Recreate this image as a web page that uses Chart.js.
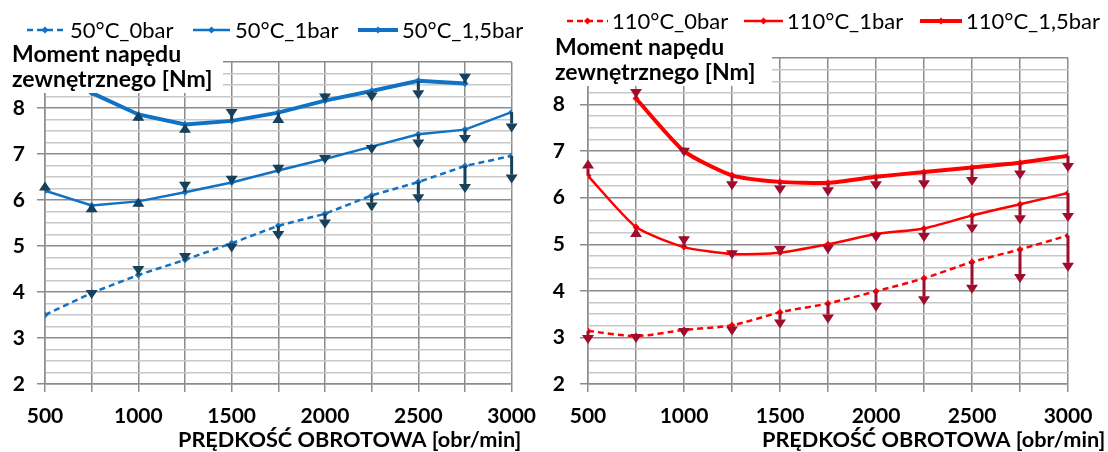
<!DOCTYPE html>
<html>
<head>
<meta charset="utf-8">
<script src="https://cdn.jsdelivr.net/npm/chart.js@4.4.1/dist/chart.umd.min.js"></script>
<style>
  body { margin: 0; background: #fff; }
  #wrap { position: relative; width: 1108px; height: 452px; }
  canvas { position: absolute; top: 0; }
</style>
</head>
<body>
<div id="wrap">
  <canvas id="chartLeft" width="548" height="452" style="left:0"></canvas>
  <canvas id="chartRight" width="560" height="452" style="left:548px"></canvas>
</div>
<script>
// rotational speed [obr/min]
const speeds = [500, 750, 1000, 1250, 1500, 1750, 2000, 2250, 2500, 2750, 3000];

// 50°C, torque [Nm]
const t50_0bar  = [3.5, 3.98, 4.37, 4.7, 5.06, 5.44, 5.7, 6.1, 6.39, 6.74, 6.96];
const t50_1bar  = [6.2, 5.88, 5.97, 6.17, 6.38, 6.64, 6.89, 7.16, 7.43, 7.53, 7.91];
const t50_15bar = [null, 8.33, 7.86, 7.64, 7.72, 7.9, 8.16, 8.37, 8.59, 8.53, null];
// arrow ends (tip value) and direction (-1 down, 1 up)
const a50_0bar  = [null, 3.85, 4.37, 4.65, 4.86, 5.13, 5.38, 5.75, 5.93, 6.15, 6.36];
const d50_0bar  = [-1, -1, -1, -1, -1, -1, -1, -1, -1, -1, -1];
const a50_1bar  = [6.4, 5.93, 6.05, 6.2, 6.33, 6.57, 6.78, 7.0, 7.12, 7.22, 7.47];
const d50_1bar  = [1, 1, 1, -1, -1, -1, -1, -1, -1, -1, -1];
const a50_15bar = [null, null, 7.92, 7.66, 7.78, 7.87, 8.12, 8.14, 8.19, 8.55, null];
const d50_15bar = [-1, -1, 1, 1, -1, 1, -1, -1, -1, -1, -1];

// 110°C, torque [Nm]
const t110_0bar  = [3.14, 3.03, 3.16, 3.26, 3.54, 3.73, 3.99, 4.27, 4.62, 4.89, 5.19];
const t110_1bar  = [6.47, 5.37, 4.94, 4.79, 4.82, 5.0, 5.22, 5.34, 5.62, 5.86, 6.1];
const t110_15bar = [null, 8.13, 7.0, 6.48, 6.34, 6.32, 6.45, 6.55, 6.65, 6.75, 6.9];
const a110_0bar  = [2.86, 2.88, 3.01, 3.04, 3.19, 3.3, 3.55, 3.69, 3.94, 4.17, 4.41];
const d110_0bar  = [-1, -1, -1, -1, -1, -1, -1, -1, -1, -1, -1];
const a110_1bar  = [6.82, 5.35, 4.98, 4.68, 4.77, 4.79, 5.05, 5.05, 5.23, 5.43, 5.48];
const d110_1bar  = [1, 1, -1, -1, -1, -1, -1, -1, -1, -1, -1];
const a110_15bar = [null, 8.14, 6.88, 6.16, 6.07, 6.03, 6.16, 6.18, 6.25, 6.39, 6.55];
const d110_15bar = [-1, -1, -1, -1, -1, -1, -1, -1, -1, -1, -1];

const yTicksShown = [2, 3, 4, 5, 6, 7, 8];
const xTicksShown = [500, 1000, 1500, 2000, 2500, 3000];

Chart.defaults.font.family = 'Lato, "Open Sans", sans-serif';
Chart.defaults.color = '#000';

const MAJOR = 'rgb(140,140,140)';
const MINOR = 'rgb(200,200,200)';
const isWhole = v => Math.abs(v - Math.round(v)) < 1e-6;

function diamond(ctx, x, y, r, color) {
  ctx.fillStyle = color;
  ctx.beginPath();
  ctx.moveTo(x, y - r);
  ctx.lineTo(x + r, y);
  ctx.lineTo(x, y + r);
  ctx.lineTo(x - r, y);
  ctx.closePath();
  ctx.fill();
}

const extras = {
  id: 'extras',
  afterDatasetsDraw(chart, args, o) {
    const ctx = chart.ctx;
    const xs = chart.scales.x, ys = chart.scales.y;
    const area = chart.chartArea;
    ctx.save();

    // arrows
    ctx.fillStyle = o.arrowColor;
    ctx.strokeStyle = o.arrowColor;
    ctx.lineWidth = 3;
    o.arrows.forEach((a, di) => {
      const vals = chart.data.datasets[di].data;
      a.tips.forEach((tip, i) => {
        if (tip == null || vals[i].y == null) return;
        const x = xs.getPixelForValue(vals[i].x);
        const y0 = ys.getPixelForValue(vals[i].y);
        const y1 = ys.getPixelForValue(tip);
        const base = y1 + a.dirs[i] * 9;
        ctx.beginPath();
        ctx.moveTo(x, y0);
        ctx.lineTo(x, base);
        ctx.stroke();
        ctx.beginPath();
        ctx.moveTo(x, y1);
        ctx.lineTo(x - 6, base);
        ctx.lineTo(x + 6, base);
        ctx.closePath();
        ctx.fill();
      });
    });

    // white box behind the y title
    ctx.fillStyle = '#fff';
    ctx.fillRect(0, area.top - 3, area.left + o.boxW, o.boxBottom - area.top + 3);

    ctx.fillStyle = '#000';
    ctx.font = 'bold 23px Lato';
    ctx.textBaseline = 'alphabetic';
    ctx.textAlign = 'left';
    ctx.fillText('Moment napędu', o.titleX, o.titleY);
    ctx.fillText('zewnętrznego [Nm]', o.titleX, o.titleY + 25);

    // x title
    ctx.font = 'bold 21.7px Lato';
    ctx.fillText('PRĘDKOŚĆ OBROTOWA [obr/min]', o.xTitleX, 447);

    // legend
    chart.data.datasets.forEach((ds, i) => {
      const it = o.legend[i];
      const ly = o.legendY;
      ctx.strokeStyle = ds.borderColor;
      ctx.lineWidth = ds.borderWidth;
      ctx.setLineDash(ds.borderDash || []);
      ctx.beginPath();
      ctx.moveTo(it[0], ly);
      ctx.lineTo(it[1], ly);
      ctx.stroke();
      ctx.setLineDash([]);
      diamond(ctx, (it[0] + it[1]) / 2, ly, 3.5, ds.borderColor);
      ctx.fillStyle = '#000';
      ctx.font = '22px Lato';
      ctx.textBaseline = 'middle';
      ctx.fillText(ds.label, it[2], ly + 1);
    });
    ctx.restore();
  }
};

function points(vals) {
  return speeds.map((s, i) => ({ x: s, y: vals[i] }));
}

function series(label, vals, color, width, dash, tension) {
  return {
    label: label,
    data: points(vals),
    borderColor: color,
    backgroundColor: color,
    borderWidth: width,
    borderDash: dash,
    pointStyle: 'rectRot',
    pointRadius: 3.5,
    pointBorderWidth: 0,
    pointBackgroundColor: color,
    tension: tension,
    spanGaps: false
  };
}

function buildChart(id, datasets, s) {
  new Chart(document.getElementById(id), {
    type: 'line',
    data: { datasets: datasets },
    plugins: [extras],
    options: {
      responsive: false,
      animation: false,
      layout: { padding: { top: s.top, right: s.right, left: 0, bottom: 0 } },
      plugins: {
        legend: { display: false },
        tooltip: { enabled: false },
        extras: s.extras
      },
      scales: {
        x: {
          type: 'linear',
          min: 500,
          max: 3000,
          afterFit: sc => { sc.height = 68; },
          ticks: {
            stepSize: 250,
            autoSkip: false,
            maxRotation: 0,
            padding: 12,
            font: { size: 21, weight: 'bold' },
            callback: v => xTicksShown.includes(v) ? String(v) : ''
          },
          grid: { color: MAJOR, lineWidth: 1.5, tickLength: 8, tickColor: MAJOR },
          border: { color: MAJOR, width: 1.5 }
        },
        y: {
          min: 2,
          max: 9,
          afterFit: sc => { sc.width = s.yWidth; },
          ticks: {
            stepSize: 0.25,
            autoSkip: false,
            padding: s.yPad,
            font: { size: 21, weight: 'bold' },
            callback: v => yTicksShown.some(t => Math.abs(t - v) < 1e-6) ? String(Math.round(v)) : ''
          },
          grid: {
            color: c => (c.tick && !isWhole(c.tick.value)) ? MINOR : MAJOR,
            lineWidth: 1.5,
            tickLength: 8,
            tickColor: c => (c.tick && !isWhole(c.tick.value)) ? 'rgba(0,0,0,0)' : MAJOR
          },
          border: { color: MAJOR, width: 1.5 }
        }
      }
    }
  });
}

const BLUE = '#0F72C4';
const RED = '#FF0000';

buildChart('chartLeft', [
  series('50°C_0bar', t50_0bar, BLUE, 2.5, [6, 4], 0),
  series('50°C_1bar', t50_1bar, BLUE, 2.5, [], 0),
  series('50°C_1,5bar', t50_15bar, BLUE, 4, [], 0)
], {
  top: 62, right: 35, yWidth: 45, yPad: 12,
  extras: {
    arrowColor: '#17405A',
    arrows: [
      { tips: a50_0bar, dirs: d50_0bar },
      { tips: a50_1bar, dirs: d50_1bar },
      { tips: a50_15bar, dirs: d50_15bar }
    ],
    boxW: 178, boxBottom: 93,
    titleX: 12, titleY: 62,
    xTitleX: 178,
    legendY: 30,
    legend: [[27, 63, 70], [193, 230, 235], [358, 398, 402]]
  }
});

buildChart('chartRight', [
  series('110°C_0bar', t110_0bar, RED, 2.5, [6, 4], 0.25),
  series('110°C_1bar', t110_1bar, RED, 2.5, [], 0.2),
  series('110°C_1,5bar', t110_15bar, RED, 4, [], 0.2)
], {
  top: 58, right: 40, yWidth: 40, yPad: 15,
  extras: {
    arrowColor: '#A00C2C',
    arrows: [
      { tips: a110_0bar, dirs: d110_0bar },
      { tips: a110_1bar, dirs: d110_1bar },
      { tips: a110_15bar, dirs: d110_15bar }
    ],
    boxW: 184, boxBottom: 86,
    titleX: 7, titleY: 55,
    xTitleX: 214,
    legendY: 21,
    legend: [[19, 60, 64], [196, 235, 239], [372, 414, 418]]
  }
});
</script>
</body>
</html>
